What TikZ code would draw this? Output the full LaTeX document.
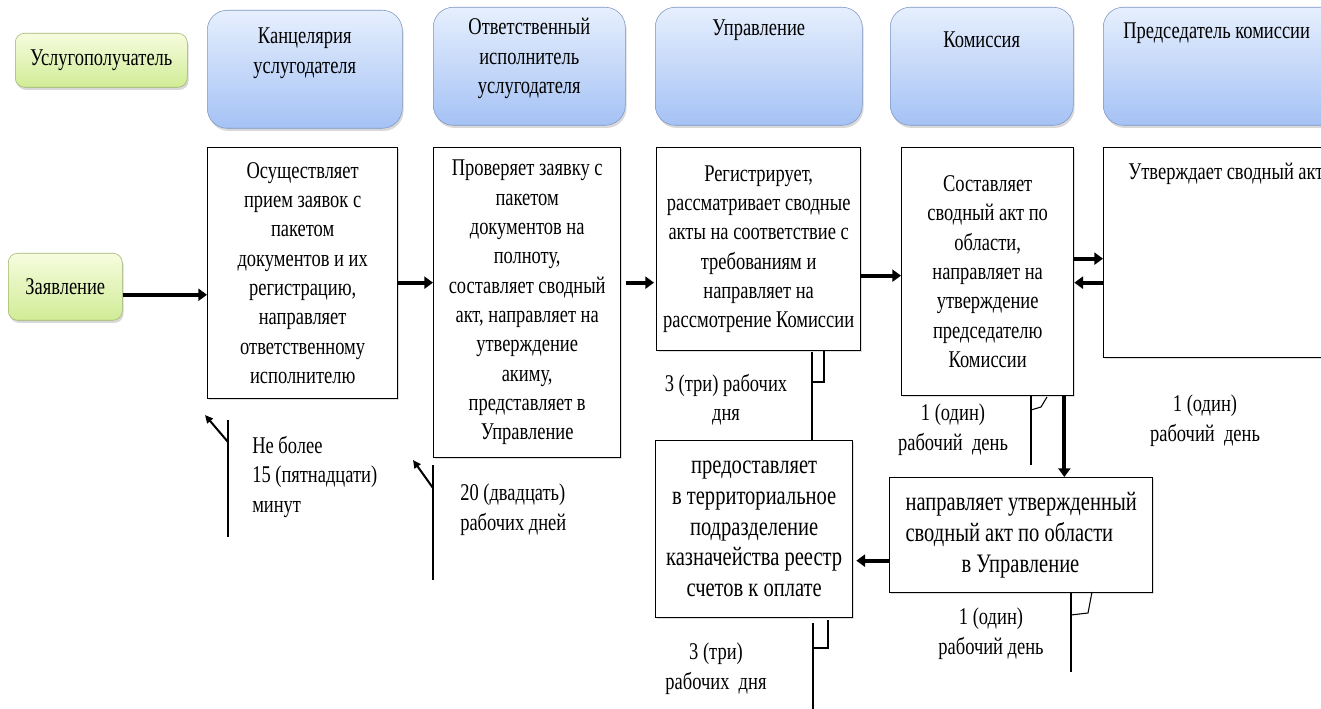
\documentclass[tikz,border=0pt]{standalone}
\usepackage{fontspec}
\setmainfont[FakeStretch=0.77]{Liberation Serif}
\usetikzlibrary{positioning,calc,arrows.meta,shadows}
\newlength{\pxu}\setlength{\pxu}{0.75pt}
\definecolor{hdtop}{RGB}{230,239,253}
\definecolor{hdbot}{RGB}{165,194,245}
\definecolor{hdline}{RGB}{125,150,195}
\definecolor{grtop}{RGB}{246,252,222}
\definecolor{grbot}{RGB}{208,236,150}
\definecolor{grline}{RGB}{160,180,110}
\begin{document}
\begin{tikzpicture}[x=0.75pt,y=-0.75pt,
		font=\fontsize{18}{22}\selectfont,
		header/.style={draw=hdline, thin, rounded corners=15pt, top color=hdtop, bottom color=hdbot, anchor=north west, minimum height=118\pxu, drop shadow={shadow xshift=1pt,shadow yshift=-2pt,opacity=0.3}},
		client/.style={draw=grline, thin, rounded corners=7pt, top color=grtop, bottom color=grbot, anchor=north west, drop shadow={shadow xshift=1pt,shadow yshift=-2pt,opacity=0.3}},
		headtext/.style={align=center, inner sep=0pt, anchor=north},
		procbox/.style={draw=black, line width=1pt, fill=white, align=center, anchor=north west, drop shadow={shadow xshift=1pt,shadow yshift=-1pt,opacity=0.25}},
		bigtext/.style={font=\fontsize{20}{23}\selectfont},
		flow/.style={line width=2.8pt, -{Triangle[length=6.5pt,width=9pt]}},
		term/.style={inner sep=0pt, align=center, anchor=north},
		callout/.style={line width=0.8pt},
		pointer/.style={line width=1.5pt, -{Triangle[length=6pt,width=5.5pt]}},
	]
	\path[use as bounding box, fill=white] (0,0) rectangle (1321,709);
	% Header row
	\node (usl) [client, minimum width=172\pxu, minimum height=54\pxu] at (15,33) {Услугополучатель};
	\node (h1) [header, minimum width=195\pxu] at (207,10) {};
	\node (h2) [header, minimum width=192\pxu] at (433,7) {};
	\node (h3) [header, minimum width=207\pxu] at (655,7) {};
	\node (h4) [header, minimum width=183\pxu] at (890,7) {};
	\node (h5) [header, minimum width=250\pxu] at (1103,7) {};
	\node (h1t) [headtext] at ($(h1.north)+(0,18)$) {Канцелярия\\услугодателя};
	\node (h2t) [headtext] at ($(h2.north)+(0,11)$) {Ответственный\\исполнитель\\услугодателя};
	\node (h3t) [headtext] at ($(h3.north)+(0,13)$) {Управление};
	\node (h4t) [headtext] at ($(h4.north)+(0,25)$) {Комиссия};
	\node (h5t) [headtext, anchor=north west] at ($(h5.north west)+(20,16)$) {Председатель комиссии};
	% Process boxes
	\node (zay) [client, minimum width=114\pxu, minimum height=67\pxu] at (8,253) {Заявление};
	\node (b1) [procbox, minimum width=190\pxu, minimum height=251\pxu] at (207,147) {Осуществляет\\прием заявок с\\пакетом\\документов и их\\регистрацию,\\направляет\\ответственному\\исполнителю};
	\node (b2) [procbox, minimum width=187\pxu, minimum height=310\pxu] at (433,147) {Проверяет заявку с\\пакетом\\документов на\\полноту,\\составляет сводный\\акт, направляет на\\утверждение\\акиму,\\представляет в\\Управление};
	\node (b3) [procbox, minimum width=204\pxu, minimum height=203\pxu] at (656,147) {Регистрирует,\\рассматривает сводные\\акты на соответствие с\\требованиям и\\направляет на\\рассмотрение Комиссии};
	\node (b4) [procbox, minimum width=172\pxu, minimum height=248\pxu] at (901,147) {Составляет\\сводный акт по\\области,\\направляет на\\утверждение\\председателю\\Комиссии};
	\node (b5) [procbox, minimum width=250\pxu, minimum height=210\pxu] at (1103,147) {};
	\node (b5t) [inner sep=0pt, anchor=north west] at ($(b5.north west)+(25,16)$) {Утверждает сводный акт};
	\node (b6) [procbox, bigtext, align=left, minimum width=263\pxu, minimum height=115\pxu] at (889,477) {направляет утвержденный\\сводный акт по области\\\hspace*{42pt}в Управление};
	\node (b7) [procbox, bigtext, minimum width=197\pxu, minimum height=177\pxu] at (655,440) {предоставляет\\в территориальное\\подразделение\\казначейства реестр\\счетов к оплате};
	% Flow arrows
	\draw[flow] ($(zay.east)+(0,8)$) -- ($(zay.east -| b1.west)+(0,8)$);
	\draw[flow] ($(b1.east)+(0,9.5)$) -- ($(b1.east -| b2.west)+(0,9.5)$);
	\draw[flow] ($(b3.west -| b2.east)+(5,33.5)$) -- ($(b3.west)+(-2,33.5)$);
	\draw[flow] ($(b4.west -| b3.east)+(0,4)$) -- ($(b4.west)+(0,4)$);
	\draw[flow] ($(b4.east)+(0,-13)$) -- ($(b4.east -| b5.west)+(0,-13)$);
	\draw[flow] ($(b5.west |- b4.east)+(0,11)$) -- ($(b4.east)+(0,11)$);
	\draw[flow] ($(b4.south east)+(-10,0)$) -- ($(b4.south east |- b6.north)+(-10,0)$);
	\draw[flow] ($(b6.west)+(0,25.5)$) -- ($(b6.west -| b7.east)+(3,25.5)$);
	% Time callouts
	\draw[callout] (228,420) -- (228,537);
	\draw[pointer] (228,442) -- (205,415);
	\node (t1) [term, align=left, anchor=north west] at (252,436) {Не более\\15 (пятнадцати)\\минут};
	\draw[callout] (433,465) -- (433,580);
	\draw[pointer] (433,488) -- (413,460);
	\node (t2) [term, align=left, anchor=north west] at (460,484) {20 (двадцать)\\рабочих дней};
	\draw[callout] (812,352) -- (812,440);
	\draw[callout] (812,382) -- (824,382) -- (824,350);
	\node (t3) [term] at (726,374) {3 (три) рабочих\\дня};
	\draw[callout] (1031,395) -- (1031,465);
	\draw[callout] (1031,410) -- (1041,407) -- (1047,397);
	\node (t4) [term] at (953,404) {1 (один)\\рабочий\ \ день};
	\node (t5) [term] at (1205,395) {1 (один)\\рабочий\ \ день};
	\draw[callout] (1071,592) -- (1071,672);
	\draw[callout] (1071,615) -- (1088,613) -- (1092,592);
	\node (t6) [term] at (991,608) {1 (один)\\рабочий день};
	\draw[callout] (813,623) -- (813,709);
	\draw[callout] (813,648) -- (828,648) -- (828,620);
	\node (t7) [term] at (716,643) {3 (три)\\рабочих\ \ дня};
\end{tikzpicture}
\end{document}
